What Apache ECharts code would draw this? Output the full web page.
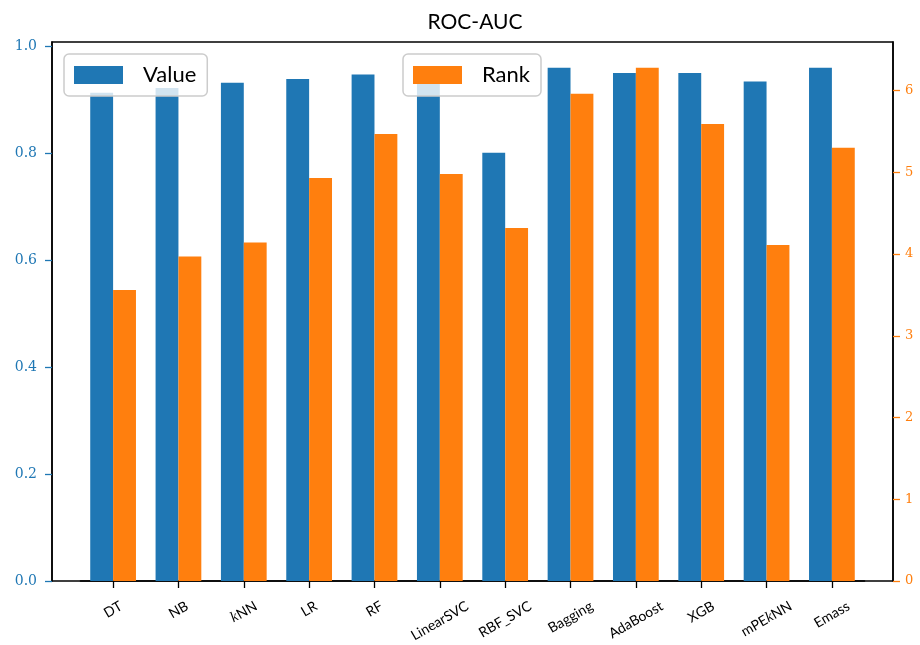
<!DOCTYPE html>
<html>
<head>
<meta charset="utf-8">
<title>ROC-AUC</title>
<script src="https://cdn.jsdelivr.net/npm/echarts@6/dist/echarts.min.js"></script>
<style>
  html, body { margin: 0; padding: 0; background: #fff; }
  #chart { width: 920px; height: 645px; }
</style>
</head>
<body>
<div id="chart"></div>
<script>
// Classifiers compared, in plotting order
const categories = ['DT', 'NB', 'kNN', 'LR', 'RF', 'LinearSVC', 'RBF_SVC', 'Bagging', 'AdaBoost', 'XGB', 'mPEkNN', 'Emass'];
// ROC-AUC value per classifier (left axis)
const valueScores = [0.913, 0.922, 0.932, 0.939, 0.947, 0.934, 0.801, 0.960, 0.950, 0.950, 0.934, 0.960];
// Mean rank per classifier (right axis)
const rankScores = [3.56, 3.97, 4.14, 4.93, 5.47, 4.98, 4.32, 5.96, 6.28, 5.59, 4.11, 5.30];
// Tick values
const valueTicks = [0, 0.2, 0.4, 0.6, 0.8, 1.0];
const rankTicks = [0, 1, 2, 3, 4, 5, 6];

const BLUE = '#1f77b4';
const ORANGE = '#ff7f0e';

// Axis ranges padded 5% above the tallest bar
const valueMax = Math.max(...valueScores) * 1.05;
const rankMax = Math.max(...rankScores) * 1.05;

// Frame geometry
const frame = { left: 52, top: 42, width: 841, height: 539 };
// x range: bars span [-0.35, n-1+0.35] plus 5% margins on each side
const n = categories.length;
const span = (n - 1) + 0.7;
const xMin = -0.35 - 0.05 * span;
const xRange = span * 1.1;
const unit = frame.width / xRange;
const barGridLeft = frame.left + (-xMin) * unit - unit / 2;
const barGridWidth = unit * n;
const sideOffset = barGridLeft - frame.left;

// Rotated tick labels are laid out like centred, rotated text boxes:
// measure each label so its box can be centred under its tick.
const measureCtx = document.createElement('canvas').getContext('2d');
function textWidth(str, font) { measureCtx.font = font; return measureCtx.measureText(str).width; }
const LABEL_FONT = '14px Lato';
const MATH_FONT = 'italic 15px "Liberation Serif"';
function splitLabel(name) {
  const parts = [];
  const re = /k(?=NN)/g;
  let last = 0, m;
  while ((m = re.exec(name)) !== null) {
    if (m.index > last) parts.push({ text: name.slice(last, m.index), italic: false });
    parts.push({ text: 'k', italic: true });
    last = m.index + 1;
  }
  if (last < name.length) parts.push({ text: name.slice(last), italic: false });
  return parts;
}
const labelParts = categories.map(splitLabel);
const rich = {
  t: { fontFamily: 'Lato', fontSize: 14, lineHeight: 17, color: '#000' },
  k: { fontFamily: 'Liberation Serif', fontStyle: 'italic', fontSize: 15, lineHeight: 17, color: '#000' }
};
const sinA = Math.sin(Math.PI / 6), cosA = Math.cos(Math.PI / 6);
labelParts.forEach((parts, i) => {
  const L = parts.reduce((w, p) => w + textWidth(p.text, p.italic ? MATH_FONT : LABEL_FONT), 0);
  const shiftDown = L * sinA / 2;              // drop centre so box top stays level
  const padTop = 2 * shiftDown * cosA;         // local-y component
  const padRight = 2 * shiftDown * sinA;       // local-x component
  rich['v' + i] = { width: 1, height: padTop, lineHeight: padTop, fontSize: 1 };
  rich['h' + i] = { width: padRight, fontSize: 1, lineHeight: 1 };
});

const chart = echarts.init(document.getElementById('chart'), null, { renderer: 'canvas' });

chart.setOption({
  animation: false,
  backgroundColor: '#ffffff',
  title: {
    text: 'ROC-AUC',
    left: 470,
    textAlign: 'center',
    top: 7,
    textStyle: { fontFamily: 'Lato', fontSize: 21, fontWeight: 'normal', color: '#000' }
  },
  legend: [
    {
      data: ['Value'], left: 64, top: 54,
      icon: 'rect', itemWidth: 49, itemHeight: 18,
      padding: [10, 11, 10, 10],
      backgroundColor: 'rgba(255,255,255,0.8)',
      borderColor: '#cccccc', borderWidth: 1.5, borderRadius: 5,
      textStyle: { fontFamily: 'Lato', fontSize: 22, lineHeight: 22, color: '#000', padding: [0, 0, 0, 15] }
    },
    {
      data: ['Rank'], left: 403, top: 54,
      icon: 'rect', itemWidth: 49, itemHeight: 18,
      padding: [10, 11, 10, 10],
      backgroundColor: 'rgba(255,255,255,0.8)',
      borderColor: '#cccccc', borderWidth: 1.5, borderRadius: 5,
      textStyle: { fontFamily: 'Lato', fontSize: 22, lineHeight: 22, color: '#000', padding: [0, 0, 0, 15] }
    }
  ],
  grid: [
    // outer frame
    { left: frame.left, top: frame.top, width: frame.width, height: frame.height,
      show: true, borderColor: '#000', borderWidth: 1.5, backgroundColor: 'transparent' },
    // bar area
    { left: barGridLeft, top: frame.top, width: barGridWidth, height: frame.height }
  ],
  xAxis: [
    { gridIndex: 0, type: 'value', show: false, min: 0, max: 1 },
    {
      gridIndex: 1, type: 'category', data: categories,
      axisLine: { show: true, lineStyle: { color: '#000', width: 1.5 } },
      axisTick: { show: true, alignWithLabel: true, length: 7, lineStyle: { color: '#000', width: 1.3 } },
      axisLabel: {
        interval: 0, rotate: 30, margin: 24,
        align: 'center', verticalAlign: 'middle',
        fontFamily: 'Lato', fontSize: 14, color: '#000',
        formatter: (val, idx) => `{v${idx}| }\n` +
          labelParts[idx].map(p => `{${p.italic ? 'k' : 't'}|${p.text}}`).join('') + `{h${idx}| }`,
        rich: rich
      },
      splitLine: { show: false }
    }
  ],
  yAxis: [
    { gridIndex: 0, type: 'value', show: false, min: 0, max: 1 },
    {
      gridIndex: 1, type: 'value', position: 'left', offset: sideOffset,
      min: 0, max: valueMax,
      axisLine: { show: true, lineStyle: { color: '#000', width: 1.5 } },
      axisTick: { show: true, length: 7, customValues: valueTicks, lineStyle: { color: BLUE, width: 1.3 } },
      axisLabel: { customValues: valueTicks, margin: 15, formatter: v => v.toFixed(1),
        fontFamily: 'DejaVu Serif', fontSize: 14, color: BLUE },
      splitLine: { show: false }
    },
    {
      gridIndex: 1, type: 'value', position: 'right', offset: sideOffset,
      min: 0, max: rankMax,
      axisLine: { show: true, lineStyle: { color: '#000', width: 1.5 } },
      axisTick: { show: true, length: 7, customValues: rankTicks, lineStyle: { color: ORANGE, width: 1.3 } },
      axisLabel: { customValues: rankTicks, margin: 12, formatter: v => String(v),
        fontFamily: 'DejaVu Serif', fontSize: 13, color: ORANGE },
      splitLine: { show: false }
    }
  ],
  series: [
    {
      name: 'Value', type: 'bar', xAxisIndex: 1, yAxisIndex: 1,
      data: valueScores, barWidth: 0.35 * unit, barGap: '0%',
      itemStyle: { color: BLUE }
    },
    {
      name: 'Rank', type: 'bar', xAxisIndex: 1, yAxisIndex: 2,
      data: rankScores, barWidth: 0.35 * unit, barGap: '0%',
      itemStyle: { color: ORANGE }
    }
  ]
});
</script>
</body>
</html>
